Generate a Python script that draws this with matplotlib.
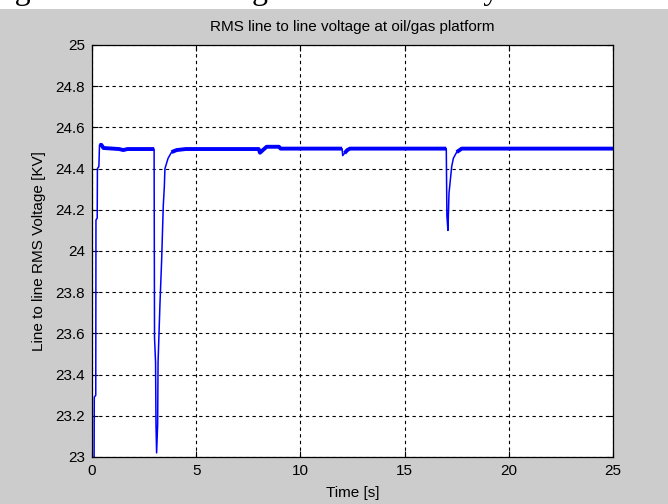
import matplotlib
matplotlib.use("Agg")
import matplotlib.pyplot as plt
import numpy as np

# RMS line to line voltage (time in s, voltage in kV)
time_s = [0.00, 0.10, 0.11, 0.18, 0.19, 0.25, 0.26, 0.33, 0.36, 0.45, 0.55,
          1.30, 1.50, 1.70, 2.98, 3.00, 3.05, 3.07, 3.10, 3.15, 3.17, 3.26,
          3.34, 3.42, 3.47, 3.50, 3.65, 3.82, 4.06, 4.50, 8.00, 8.06, 8.20,
          8.38, 8.97, 9.05, 12.00, 12.03, 12.12, 12.25, 12.38, 17.00, 17.03,
          17.08, 17.13, 17.21, 17.26, 17.34, 17.50, 17.74, 25.00]
voltage_kv = [22.90, 22.99, 23.29, 23.30, 24.15, 24.16, 24.40, 24.41, 24.515,
              24.515, 24.50, 24.495, 24.49, 24.495, 24.495, 23.58, 23.46, 23.16,
              23.02, 23.16, 23.46, 23.74, 23.95, 24.22, 24.31, 24.40, 24.45,
              24.48, 24.49, 24.495, 24.495, 24.477, 24.49, 24.506, 24.506,
              24.497, 24.497, 24.463, 24.475, 24.49, 24.497, 24.497, 24.17,
              24.10, 24.28, 24.36, 24.41, 24.45, 24.48, 24.497, 24.497]

x_ticks = [0, 5, 10, 15, 20, 25]
y_ticks = [23, 23.2, 23.4, 23.6, 23.8, 24, 24.2, 24.4, 24.6, 24.8, 25]
y_labels = ["23", "23.2", "23.4", "23.6", "23.8", "24", "24.2", "24.4", "24.6", "24.8", "25"]

plt.rcParams['font.family'] = ['Liberation Sans', 'DejaVu Sans']

fig = plt.figure(figsize=(6.68, 5.04), dpi=100, facecolor='#cccccc')

# white page strip on top with the clipped document caption
fig.patches.append(plt.Rectangle((0, 1 - 9 / 504), 1, 9 / 504, transform=fig.transFigure,
                                 facecolor='white', edgecolor='none', zorder=0))
fig.text(-12 / 668, 1 + 1.5 / 504, "Figure 4: RMS voltage of the HVDC system",
         family='Liberation Serif', fontsize=23, va='baseline', ha='left')

ax = fig.add_axes([92 / 668, 1 - 457 / 504, 521 / 668, 412 / 504])
ax.set_facecolor('white')
ax.set_zorder(2)

t = np.array(time_s)
v = np.array(voltage_kv)
ax.plot(t, v, color='blue', lw=1.1)
# steady-state part of the trace looks thicker (ripple)
v_thick = np.where(v > 24.47, v, np.nan)
ax.plot(t, v_thick, color='blue', lw=2.8, solid_capstyle='butt')

ax.set_xlim(0, 25)
ax.set_ylim(23, 25)
ax.set_xticks(x_ticks)
ax.set_yticks(y_ticks)
ax.set_yticklabels(y_labels)
ax.grid(True, color='black', linestyle=(0, (3, 3)), lw=0.8)
ax.tick_params(direction='in', length=4, top=True, right=True, labelsize=11,
               colors='black', pad=5)
for s in ax.spines.values():
    s.set_linewidth(0.9)

ax.set_title("RMS line to line voltage at oil/gas platform", fontsize=11, pad=10)
ax.set_xlabel("Time [s]", fontsize=11, labelpad=6)
ax.set_ylabel("Line to line RMS Voltage [KV]", fontsize=11, labelpad=7)

fig.savefig("out.png", dpi=100, facecolor=fig.get_facecolor())
